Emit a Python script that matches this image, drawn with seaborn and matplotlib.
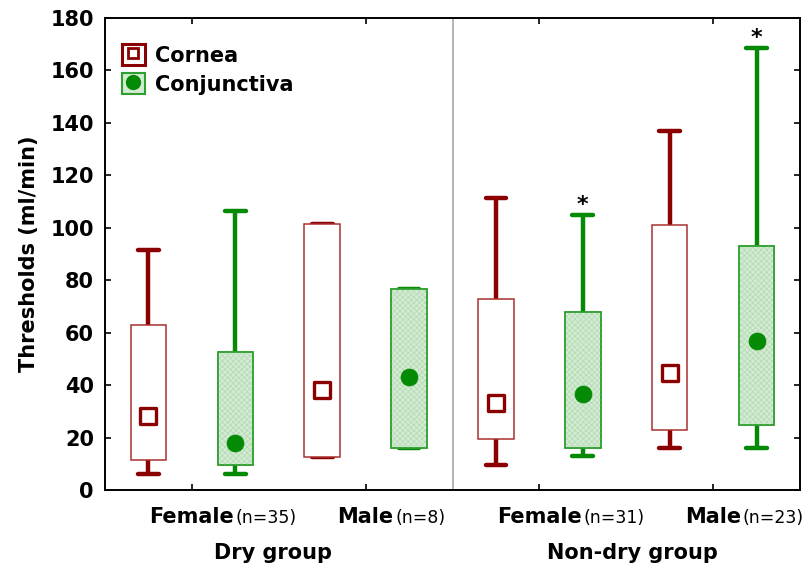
import numpy as np
import pandas as pd
import matplotlib
matplotlib.use("Agg")
import matplotlib.pyplot as plt
import seaborn as sns
from matplotlib.patches import Patch, PathPatch
from matplotlib.lines import Line2D

# Groups, subgroups and sample sizes
groups = ["Dry group", "Non-dry group"]
sexes = ["Female", "Male", "Female", "Male"]
counts = ["(n=35)", "(n=8)", "(n=31)", "(n=23)"]
tissues = ["Cornea", "Conjunctiva"]

# Box statistics, one entry per box:
# Dry F cornea, Dry F conj, Dry M cornea, Dry M conj,
# Non-dry F cornea, Non-dry F conj, Non-dry M cornea, Non-dry M conj
medians = [28.3, 18.0, 38.0, 43.0, 33.3, 36.7, 44.6, 56.8]
q1 = [11.3, 9.5, 12.7, 16.2, 19.6, 16.2, 22.9, 24.7]
q3 = [63.0, 52.6, 101.5, 76.5, 73.0, 67.9, 101.0, 93.0]
lows = [6.2, 6.2, 12.7, 16.2, 9.5, 12.8, 16.2, 16.2]
highs = [91.5, 106.4, 101.5, 76.5, 111.5, 104.9, 137.0, 168.4]
significant = [False, False, False, False, False, True, False, True]

RED = "#8b0000"
RED_EDGE = "#a93030"
GREEN = "#058a05"
GREEN_EDGE = "#2f9f2f"
GREEN_FILL = "#d3ebd3"

sns.set_theme(style="ticks")
plt.rcParams["font.family"] = ["DejaVu Sans"]
plt.rcParams["hatch.linewidth"] = 0.5
for key in ["text.color", "axes.labelcolor", "xtick.color", "ytick.color", "axes.edgecolor"]:
    plt.rcParams[key] = "black"

fig = plt.figure(figsize=(8.09, 5.69), dpi=100)
ax = fig.add_axes([105 / 809, 1 - 490 / 569, 695 / 809, 472 / 569])

positions = np.arange(len(medians))
tissue_of = [tissues[i % 2] for i in positions]

stats = []
for i in positions:
    stats.append(dict(med=medians[i], q1=q1[i], q3=q3[i],
                      whislo=lows[i], whishi=highs[i], fliers=[]))

for tissue in tissues:
    idx = [i for i in positions if tissue_of[i] == tissue]
    line_c = RED if tissue == "Cornea" else GREEN
    edge_c = RED_EDGE if tissue == "Cornea" else GREEN_EDGE
    face_c = "white" if tissue == "Cornea" else GREEN_FILL
    res = ax.bxp([stats[i] for i in idx], positions=idx, widths=0.41,
                 patch_artist=True, showfliers=False, manage_ticks=False,
                 boxprops=dict(facecolor=face_c, edgecolor=edge_c, linewidth=1.1),
                 whiskerprops=dict(color=line_c, linewidth=3.2, solid_capstyle="butt"),
                 capprops=dict(color=line_c, linewidth=3.2, solid_capstyle="round"),
                 medianprops=dict(linewidth=0, alpha=0),
                 capwidths=0.24)
    for box in res["boxes"]:
        box.set_zorder(2)
        if tissue == "Conjunctiva":
            ax.add_patch(PathPatch(box.get_path(), facecolor="none",
                                   edgecolor="#b2d9b2", hatch="xxxxxx",
                                   linewidth=0, zorder=2.1))
            ax.add_patch(PathPatch(box.get_path(), facecolor="none",
                                   edgecolor=edge_c, linewidth=1.1, zorder=2.2))
    for ln in res["whiskers"] + res["caps"]:
        ln.set_zorder(1.5)

# Median markers
df = pd.DataFrame({"pos": positions, "median": medians, "tissue": tissue_of})
cor = df[df.tissue == "Cornea"]
con = df[df.tissue == "Conjunctiva"]
sns.scatterplot(data=cor, x="pos", y="median", marker="s", s=120,
                color="white", edgecolor=RED, linewidth=2.4, ax=ax, zorder=3,
                legend=False)
sns.scatterplot(data=con, x="pos", y="median", marker="o", s=150,
                color=GREEN, edgecolor=GREEN, linewidth=0.5, ax=ax, zorder=3,
                legend=False)

# Significance stars
for i in positions:
    if significant[i]:
        ax.annotate("*", xy=(i, highs[i]), xytext=(0, 0), textcoords="offset points",
                    ha="center", va="bottom", fontsize=16, fontweight="bold")

# Group separator
ax.axvline(3.5, color="#a8a8a8", linewidth=1.2, zorder=0)

ax.set_xlim(-0.5, 7.5)
ax.set_ylim(0, 180)
ax.set_yticks(np.arange(0, 181, 20))
ax.set_xticks([0.5, 2.5, 4.5, 6.5])
ax.set_xticklabels([])
ax.tick_params(axis="both", direction="in", length=4, width=1.2,
               top=True, right=True, labelsize=15, colors="black")
for lab in ax.get_yticklabels():
    lab.set_fontweight("bold")
ax.tick_params(axis="y", pad=8)
for sp in ax.spines.values():
    sp.set_linewidth(1.4)
    sp.set_color("black")
    sp.set_visible(True)

ax.set_xlabel("")
ax.set_ylabel("Thresholds (ml/min)", fontsize=15, fontweight="bold", labelpad=8)

# Sex labels with sample sizes
for k, x in enumerate([0.5, 2.5, 4.5, 6.5]):
    t = ax.annotate(sexes[k], xy=(x, 0), xycoords=("data", "axes fraction"),
                    xytext=(0, -12), textcoords="offset points",
                    ha="center", va="top", fontsize=15, fontweight="bold")
    ax.annotate(counts[k], xy=(1, 0), xycoords=t, xytext=(1, 0),
                textcoords="offset points", ha="left", va="bottom", fontsize=12.5)

# Group labels
for name, x in zip(groups, [1.43, 5.57]):
    ax.annotate(name, xy=(x, 0), xycoords=("data", "axes fraction"),
                xytext=(0, -38), textcoords="offset points",
                ha="center", va="top", fontsize=15, fontweight="bold")

# Legend
h_cor = (Patch(facecolor="white", edgecolor=RED, linewidth=2.2),
         Line2D([], [], marker="s", markersize=7, markerfacecolor="white",
                markeredgecolor=RED, markeredgewidth=2.0, linestyle="none"))
h_con = (Patch(facecolor=GREEN_FILL, edgecolor=GREEN_EDGE, linewidth=1.5),
         Line2D([], [], marker="o", markersize=10, markerfacecolor=GREEN,
                markeredgecolor=GREEN, linestyle="none"))
leg = ax.legend([h_cor, h_con], tissues, loc="upper left", frameon=False,
                prop=dict(size=15, weight="bold"), handlelength=1.1,
                handleheight=1.2, labelspacing=0.35, handletextpad=0.5,
                borderaxespad=0.4, bbox_to_anchor=(0.0, 0.98))

fig.savefig("out.png", dpi=100, facecolor="white")
